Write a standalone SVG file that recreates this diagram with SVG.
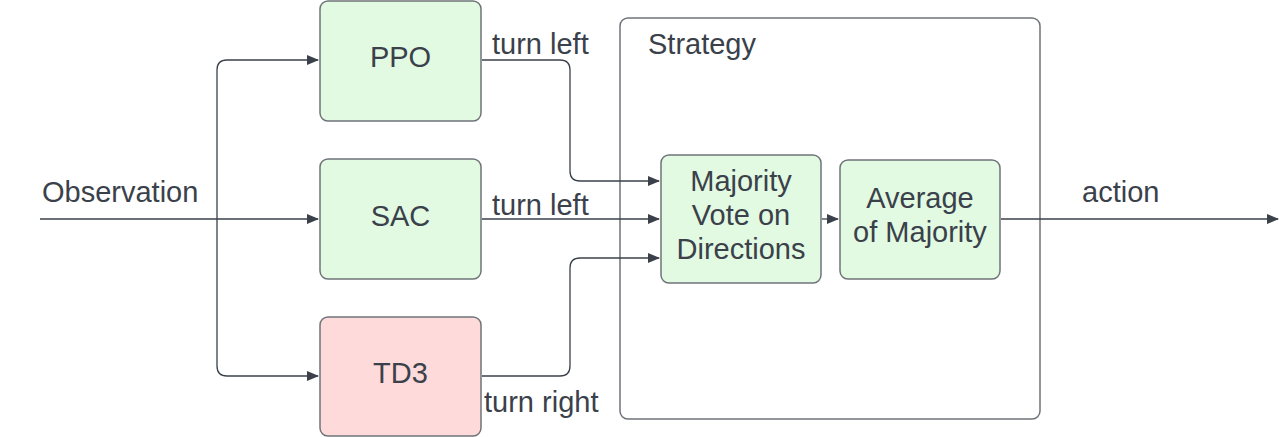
<svg xmlns="http://www.w3.org/2000/svg" width="1279" height="437" viewBox="0 0 1279 437">
<defs>
<style>
text{font-family:"Liberation Sans",Arial,sans-serif;font-size:29px;fill:#3a414a}
.c{text-anchor:middle}
.box{stroke:#6f747a;stroke-width:1.5}
.g{fill:#e2f9e2}
.r{fill:#ffdada}
.ln{fill:none;stroke:#3a414a;stroke-width:1.3}
</style>
<marker id="a" markerWidth="12" markerHeight="10" refX="11" refY="5" orient="auto" markerUnits="userSpaceOnUse">
<path d="M0,0 L12,5 L0,10 Z" fill="#3a414a"/>
</marker>
</defs>
<rect width="1279" height="437" fill="#fff"/>
<g id="strategy">
<rect x="620" y="18" width="420" height="401" rx="8" fill="#fff" stroke="#6f747a" stroke-width="1.5"/>
<text x="648" y="54">Strategy</text>
</g>
<g id="connectors">
<path class="ln" d="M40,219 H318" marker-end="url(#a)"/>
<path class="ln" d="M217,219 V70 Q217,60 227,60 H318" marker-end="url(#a)"/>
<path class="ln" d="M217,219 V366 Q217,376 227,376 H318" marker-end="url(#a)"/>
<path class="ln" d="M482,60 H560 Q570,60 570,70 V171 Q570,181 580,181 H659" marker-end="url(#a)"/>
<path class="ln" d="M482,219 H659" marker-end="url(#a)"/>
<path class="ln" d="M482,376 H560 Q570,376 570,366 V268 Q570,258 580,258 H659" marker-end="url(#a)"/>
<path class="ln" d="M822,219 H838" marker-end="url(#a)"/>
<path class="ln" d="M1001,219 H1278" marker-end="url(#a)"/>
<text x="492" y="54">turn left</text>
<text x="492" y="215">turn left</text>
<text x="484" y="412">turn right</text>
<text x="42" y="202">Observation</text>
<text x="1082" y="202">action</text>
</g>
<g id="ppo">
<rect class="box g" x="320" y="1" width="161" height="120" rx="8"/>
<text class="c" x="400.5" y="67">PPO</text>
</g>
<g id="sac">
<rect class="box g" x="320" y="159" width="161" height="120" rx="8"/>
<text class="c" x="400.5" y="226">SAC</text>
</g>
<g id="td3">
<rect class="box r" x="320" y="317" width="161" height="119" rx="8"/>
<text class="c" x="400.5" y="383">TD3</text>
</g>
<g id="majority">
<rect class="box g" x="661" y="155" width="160" height="128" rx="8"/>
<text class="c" x="741" y="191">Majority</text>
<text class="c" x="741" y="225">Vote on</text>
<text class="c" x="741" y="259">Directions</text>
</g>
<g id="average">
<rect class="box g" x="840" y="160" width="160" height="119" rx="8"/>
<text class="c" x="920" y="208">Average</text>
<text class="c" x="920" y="242">of Majority</text>
</g>
</svg>
